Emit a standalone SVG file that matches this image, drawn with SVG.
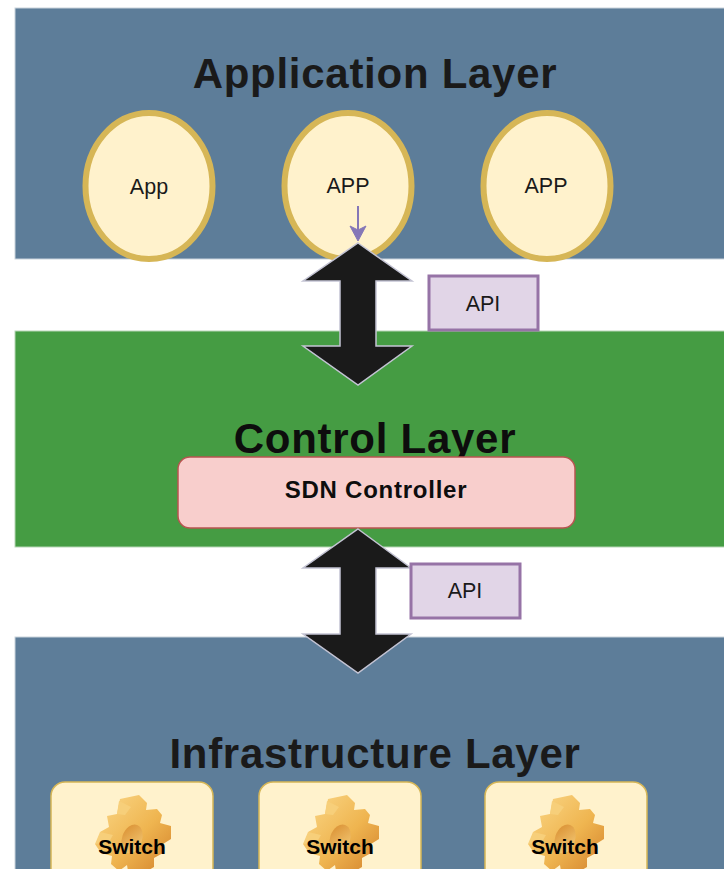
<svg xmlns="http://www.w3.org/2000/svg" width="724" height="869" viewBox="0 0 724 869">
<style>
text{font-family:"Liberation Sans",Arial,sans-serif;text-anchor:middle;fill:#1a1a1a}
.layer{stroke:#c9d3dc;stroke-width:1}
.blue{fill:#5d7d99}
.title{font-size:42px;font-weight:bold;letter-spacing:.72px}
.app{fill:#fff2cc;stroke:#d6b656;stroke-width:6}
.lbl{font-size:21.5px}
.api{fill:#e1d5e7;stroke:#9673a6;stroke-width:3}
.big{fill:#1a1a1a;stroke:#c3c3d3;stroke-width:1.5;stroke-linejoin:miter}
.sw{fill:#fff2cc;stroke:#d6b656;stroke-width:1.5}
.swt{font-size:21px;font-weight:bold;fill:#000}
</style>
<defs>
<linearGradient id="g" x1="0" y1="0" x2="1" y2="1"><stop offset="0" stop-color="#fbd98a"/><stop offset=".55" stop-color="#efb550"/><stop offset="1" stop-color="#d2802a"/></linearGradient>
<linearGradient id="h" x1="0" y1="0" x2="1" y2="1"><stop offset="0" stop-color="#d98e30"/><stop offset="1" stop-color="#f6cf7c"/></linearGradient>
<g id="gear">
<path fill="url(#g)" d="M-13-42 L6-46 L14-38 L13-31 L24-32 L29-26 L27-18 L38-15 L38-2 L30 3 L30 12 L21 17 L21 26 L9 33 L2 31 L-5 30 L-6 24 L-14 30 L-22 23 L-21 15 L-32 12 L-38 3 L-31-1 L-33-9 L-24-14 L-26-25 L-16-27 Z"/>
<path fill="#f7cf7a" d="M-14-40 L-2-34 L-8-26 L-16-27 Z M-33-9 L-20-6 L-24 1 L-38 3 Z"/>
<ellipse cx="-1" cy="-2" rx="10" ry="15" fill="url(#h)" transform="rotate(20 -1 -2)"/>
</g>
</defs>

<g id="application-layer">
<rect class="layer blue" x="15" y="8" width="710" height="251"/>
<text class="title" x="375" y="88">Application Layer</text>
</g>
<g id="control-layer">
<rect x="15" y="331" width="710" height="216" fill="#459c43" stroke="#b7d6b6"/>
<text class="title" x="375" y="453" style="fill:#0d0d0d">Control Layer</text>
</g>
<g id="infrastructure-layer">
<rect class="layer blue" x="15" y="637" width="710" height="240"/>
<text class="title" x="375" y="768">Infrastructure Layer</text>
</g>

<g id="app-1"><ellipse class="app" cx="149" cy="186" rx="63.5" ry="73"/><text class="lbl" x="149" y="194">App</text></g>
<g id="app-2"><ellipse class="app" cx="348" cy="186" rx="63.5" ry="73"/><text class="lbl" x="348" y="193">APP</text></g>
<g id="app-3"><ellipse class="app" cx="547" cy="186" rx="63.5" ry="73"/><text class="lbl" x="546" y="193">APP</text></g>

<g id="sdn-controller">
<rect x="178" y="457" width="397" height="71" rx="12" fill="#f8cecc" stroke="#b85450" stroke-width="1.5"/>
<text x="376" y="498" font-size="24" font-weight="bold" letter-spacing=".75" style="fill:#0d0d0d">SDN Controller</text>
</g>

<g id="connectors">
<path d="M358 206V232" fill="none" stroke="#8577b7" stroke-width="2"/>
<path d="M350 226L358 241L366 226L358 230Z" fill="#8577b7" stroke="#8577b7"/>
<polygon class="big" points="358,243 412,281 376,281 376,346 412,346 358,385 303,346 340,346 340,281 303,281"/>
<polygon class="big" points="358,529 411,568 376,568 376,634 411,634 358,673 303,634 340,634 340,568 303,568"/>
</g>

<g id="api-1"><rect class="api" x="429" y="276" width="109" height="54"/><text class="lbl" x="483" y="311">API</text></g>
<g id="api-2"><rect class="api" x="411" y="564" width="109" height="54"/><text class="lbl" x="465" y="598">API</text></g>

<g id="switch-1"><rect class="sw" x="51" y="782" width="162" height="100" rx="14"/><use href="#gear" x="133" y="841"/><text class="swt" x="132" y="854">Switch</text></g>
<g id="switch-2"><rect class="sw" x="259" y="782" width="162" height="100" rx="14"/><use href="#gear" x="341" y="841"/><text class="swt" x="340" y="854">Switch</text></g>
<g id="switch-3"><rect class="sw" x="485" y="782" width="162" height="100" rx="14"/><use href="#gear" x="566" y="841"/><text class="swt" x="565" y="854">Switch</text></g>
</svg>
